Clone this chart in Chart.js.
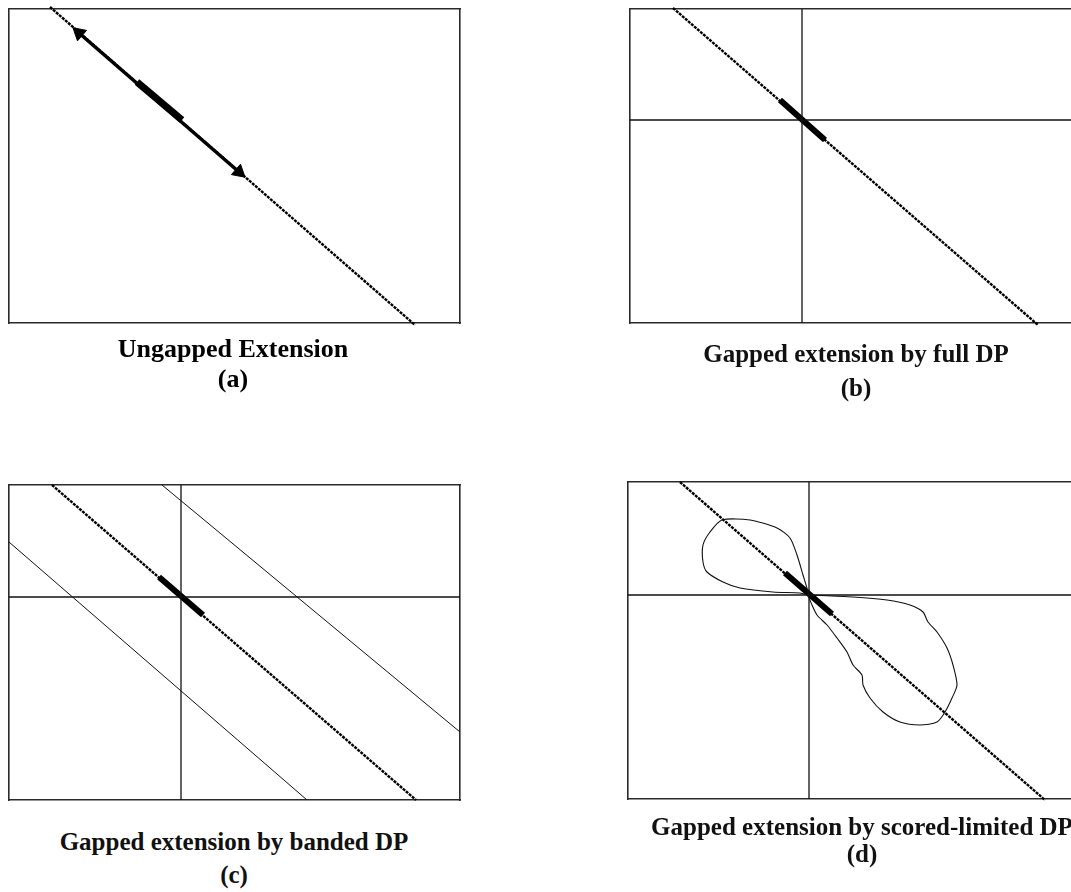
<!DOCTYPE html>
<html>
<head>
<meta charset="utf-8">
<script src="https://cdn.jsdelivr.net/npm/chart.js@4.4.1/dist/chart.umd.min.js"></script>
<style>
  html, body { margin: 0; padding: 0; background: #fff; overflow: hidden; }
  body { width: 1071px; height: 892px; position: relative; }
  canvas { position: absolute; }
  .cap {
    position: absolute; width: 600px; text-align: center;
    font-family: "Liberation Serif", "Times New Roman", serif;
    font-weight: bold; color: #000; white-space: nowrap;
  }
</style>
</head>
<body>
<canvas id="pa" width="470" height="335" style="left:0;top:0"></canvas>
<canvas id="pb" width="500" height="335" style="left:590px;top:0"></canvas>
<canvas id="pc" width="470" height="345" style="left:0;top:470px"></canvas>
<canvas id="pd" width="500" height="345" style="left:590px;top:470px"></canvas>

<div class="cap" style="left:-67px;top:334px;font-size:26px;line-height:30px">Ungapped Extension<br>(a)</div>
<div class="cap" style="left:556px;top:337px;font-size:25px;line-height:34px;color:#111">Gapped extension by full DP<br>(b)</div>
<div class="cap" style="left:-66px;top:825px;font-size:25px;line-height:33px;color:#111">Gapped extension by banded DP<br>(c)</div>
<div class="cap" style="left:562px;top:813px;font-size:25px;line-height:27px;color:#111">Gapped extension by scored-limited DP<br>(d)</div>

<script>
// DP matrix extents (columns x rows) for each panel
const matrixA = [451, 314];
const matrixB = [451, 314];
const matrixC = [451, 315];
const matrixD = [451, 317];

// (a) Ungapped extension: alignment diagonal, extension span (arrow), seed hit
const diagA = [[41, -2], [406, 316]];
const arrowA = [[70, 24], [230, 163]];
const seedA = [[128, 73], [173, 111]];

// (b) Gapped extension by full DP
const diagB = [[43, -1], [408, 316]];
const seedB = [[150, 91], [195, 131]];
const crossB = [172, 111];

// (c) Gapped extension by banded DP
const diagC = [[43, 0], [407, 315]];
const seedC = [[150, 92], [194, 130]];
const crossC = [172, 112];
const bandUpperC = [[153, 0], [451, 247]];
const bandLowerC = [[0, 57], [298, 315]];

// (d) Gapped extension by score-limited DP: explored region outlines
const diagD = [[52, 0], [417, 318]];
const seedD = [[157, 91], [204, 132]];
const crossD = [181, 113];
const lobeUpperD = [
  [180, 113], [172, 111], [145, 110], [112, 106], [95, 100], [79, 90], [75, 80],
  [75, 63], [82, 50], [94, 38], [122, 38], [149, 46], [162, 56], [169, 73],
  [175, 93], [180, 110], [180, 113]
];
const lobeLowerD = [
  [180, 113], [225, 115], [259, 118], [282, 123], [295, 130], [300, 140],
  [309, 150], [319, 166], [325, 183], [329, 203], [324, 216], [317, 230],
  [309, 240], [292, 243], [272, 240], [255, 230], [242, 216], [235, 203],
  [234, 193], [225, 183], [219, 170], [209, 156], [199, 143], [189, 133],
  [184, 123], [180, 113]
];

const pts = arr => arr.map(([x, y]) => ({ x, y }));

function lineSet(arr, width, extra) {
  return Object.assign({
    data: pts(arr), showLine: true, pointRadius: 0, borderColor: '#000',
    backgroundColor: '#000', borderWidth: width, fill: false, clip: false,
    borderCapStyle: 'butt', tension: 0
  }, extra || {});
}

function crossSets(cross, matrix) {
  return [
    lineSet([[cross[0], 0], [cross[0], matrix[1]]], 1.3, { borderColor: '#111' }),
    lineSet([[0, cross[1]], [matrix[0], cross[1]]], 1.3, { borderColor: '#111' })
  ];
}

// the alignment diagonal is drawn as a dense dotted trace
const diagStyle = { borderDash: [3, 1], borderColor: '#000' };

function axis(max, position, reverse) {
  return {
    type: 'linear', min: 0, max: max, position: position, reverse: !!reverse,
    display: true,
    grid: { display: false, drawTicks: false },
    ticks: { display: false },
    title: { display: false },
    border: { display: true, color: '#2a2a2a', width: 1.6 }
  };
}

function makeChart(id, matrix, padding, datasets) {
  return new Chart(document.getElementById(id), {
    type: 'scatter',
    data: { datasets: datasets },
    options: {
      responsive: false,
      animation: false,
      events: [],
      layout: { padding: padding },
      plugins: { legend: { display: false }, tooltip: { enabled: false } },
      scales: {
        x: axis(matrix[0], 'bottom'),
        x2: axis(matrix[0], 'top'),
        y: axis(matrix[1], 'left', true),
        y2: axis(matrix[1], 'right', true)
      }
    }
  });
}

// (a)
makeChart('pa', matrixA, { left: 9, top: 9, right: 10, bottom: 12 }, [
  lineSet(diagA, 2.4, diagStyle),
  lineSet(arrowA, 3.5),
  lineSet(seedA, 7),
  {
    data: pts(arrowA), showLine: false, pointStyle: 'triangle',
    pointRadius: 8, pointRotation: [311, 131],
    backgroundColor: '#000', borderColor: '#000', borderWidth: 1, clip: false
  }
]);

// (b)
makeChart('pb', matrixB, { left: 40, top: 9, right: 9, bottom: 12 }, [
  ...crossSets(crossB, matrixB),
  lineSet(diagB, 2.4, diagStyle),
  lineSet(seedB, 6)
]);

// (c)
makeChart('pc', matrixC, { left: 9, top: 15, right: 10, bottom: 15 }, [
  ...crossSets(crossC, matrixC),
  lineSet(bandUpperC, 1, { borderColor: '#111' }),
  lineSet(bandLowerC, 1, { borderColor: '#111' }),
  lineSet(diagC, 2.4, diagStyle),
  lineSet(seedC, 6)
]);

// (d)
makeChart('pd', matrixD, { left: 38, top: 12, right: 11, bottom: 16 }, [
  ...crossSets(crossD, matrixD),
  lineSet(lobeUpperD, 1.1, { borderColor: '#111', tension: 0.25 }),
  lineSet(lobeLowerD, 1.1, { borderColor: '#111', tension: 0.25 }),
  lineSet(diagD, 2.4, diagStyle),
  lineSet(seedD, 6)
]);
</script>
</body>
</html>
